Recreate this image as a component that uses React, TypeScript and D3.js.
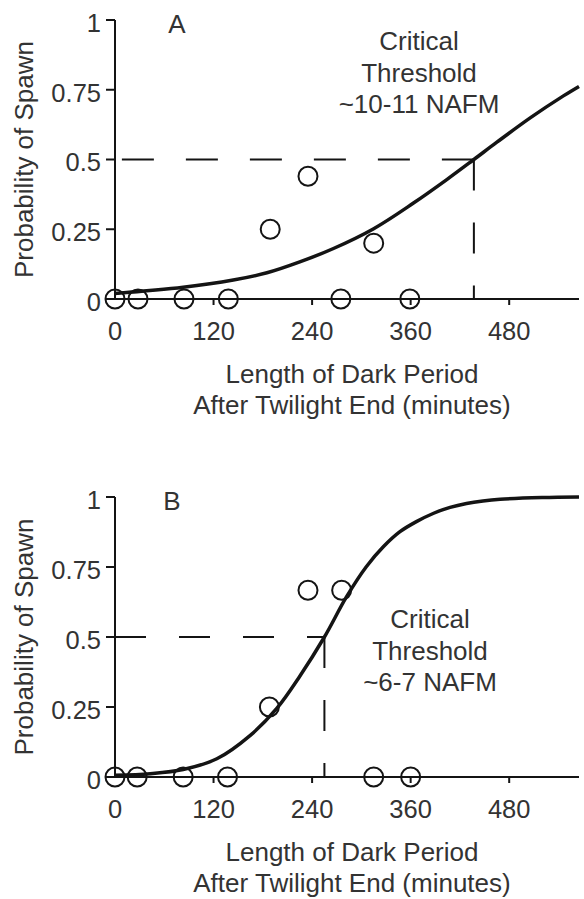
import React from "react";
import * as d3 from "d3";

// ---- Data ----
const xTicks = [0, 120, 240, 360, 480];
const yTicks = [0, 0.25, 0.5, 0.75, 1];
const yTickLabels = ["0", "0.25", "0.5", "0.75", "1"];

// Panel A observations (minutes, probability)
const obsAX = [0, 28, 84, 138, 275, 359, 189, 235, 315];
const obsAY = [0, 0, 0, 0, 0, 0, 0.25, 0.44, 0.2];
// Panel A fitted curve
const fitAX = [0, 83, 144, 185, 225, 266, 315, 363, 404, 437, 465, 506, 546, 565];
const fitAY = [0.02, 0.042, 0.068, 0.094, 0.133, 0.181, 0.252, 0.343, 0.428, 0.5, 0.562, 0.65, 0.728, 0.762];
const thresholdA = 437;

// Panel B observations
const obsBX = [0, 27, 83, 137, 315, 360, 188, 235, 276];
const obsBY = [0, 0, 0, 0, 0, 0, 0.25, 0.667, 0.667];
// Panel B fitted curve
const fitBX = [0, 43, 83, 124, 164, 197, 225, 255, 282, 306, 327, 347, 367, 388, 408, 428, 448, 469, 520, 565];
const fitBY = [0.006, 0.012, 0.027, 0.065, 0.147, 0.245, 0.36, 0.5, 0.644, 0.751, 0.823, 0.876, 0.912, 0.942, 0.963, 0.977, 0.986, 0.992, 0.998, 1.0];
const thresholdB = 255;

const panelLetters = ["A", "B"];
const noteLines = [
  ["Critical", "Threshold", "~10-11 NAFM"],
  ["Critical", "Threshold", "~6-7 NAFM"],
];
const xTitle = ["Length of Dark Period", "After Twilight End (minutes)"];
const yTitle = "Probability of Spawn";

const FONT = "'Liberation Sans', Arial, Helvetica, sans-serif";
const TEXT = "#333";
const INK = "#141414";

interface PanelProps {
  top: number;
  bottom: number;
  obsX: number[];
  obsY: number[];
  fitX: number[];
  fitY: number[];
  thr: number;
  letter: string;
  letterX: number;
  note: string[];
  noteX: number;
  noteY: number;
  hDashFromRight: boolean;
}

const x = d3.scaleLinear().domain([0, 565]).range([115, 579]);

function Panel(p: PanelProps) {
  const y = d3.scaleLinear().domain([0, 1]).range([p.bottom, p.top]);
  const line = d3
    .line<[number, number]>()
    .x((d) => x(d[0]))
    .y((d) => y(d[1]))
    .curve(d3.curveCatmullRom.alpha(0.5));
  const fitPts: [number, number][] = p.fitX.map((v, i) => [v, p.fitY[i]]);
  const x0 = x(0);
  const xEnd = x.range()[1];
  const tx = x(p.thr);
  const y5 = y(0.5);
  return (
    <g>
      {p.hDashFromRight ? (
        <line x1={tx} y1={y5} x2={x0} y2={y5} stroke={INK} strokeWidth={2} strokeDasharray="32,32" />
      ) : (
        <line x1={x0} y1={y5} x2={tx} y2={y5} stroke={INK} strokeWidth={2} strokeDasharray="31,33" />
      )}
      <line x1={tx} y1={y5} x2={tx} y2={y(0)} stroke={INK} strokeWidth={2} strokeDasharray="31,32" />

      <line x1={x0} y1={y(1)} x2={x0} y2={y(0)} stroke={INK} strokeWidth={2} />
      <line x1={x0} y1={y(0)} x2={xEnd} y2={y(0)} stroke={INK} strokeWidth={2} />
      {yTicks.map((t, i) => (
        <g key={"yt" + i}>
          <line x1={x0 - 9} x2={x0} y1={y(t)} y2={y(t)} stroke={INK} strokeWidth={2} />
          <text x={101} y={y(t) + 3} dy="0.35em" textAnchor="end" fontSize={25.5} fill={TEXT} fontFamily={FONT}>
            {yTickLabels[i]}
          </text>
        </g>
      ))}
      {xTicks.map((t, i) => (
        <g key={"xt" + i}>
          {t > 0 && <line x1={x(t)} x2={x(t)} y1={y(0)} y2={y(0) + 6} stroke={INK} strokeWidth={2} />}
          <text x={x(t)} y={y(0) + 41} textAnchor="middle" fontSize={25.5} fill={TEXT} fontFamily={FONT}>
            {t}
          </text>
        </g>
      ))}

      <path d={line(fitPts) || ""} fill="none" stroke={INK} strokeWidth={3.5} />

      {p.obsX.map((v, i) => (
        <circle key={"o" + i} cx={x(v)} cy={y(p.obsY[i])} r={9.5} fill="none" stroke={INK} strokeWidth={2} />
      ))}

      <text x={p.letterX} y={p.top + 13} textAnchor="middle" fontSize={26} fill={TEXT} fontFamily={FONT}>
        {p.letter}
      </text>
      {p.note.map((s, i) => (
        <text key={"n" + i} x={p.noteX} y={p.noteY + i * 31.5} textAnchor="middle" fontSize={26} fill={TEXT} fontFamily={FONT}>
          {s}
        </text>
      ))}
      {xTitle.map((s, i) => (
        <text key={"xt" + i} x={352} y={y(0) + 84 + i * 31} textAnchor="middle" fontSize={26} fill={TEXT} fontFamily={FONT}>
          {s}
        </text>
      ))}
      <text
        transform={`translate(33,${(p.top + p.bottom) / 2}) rotate(-90)`}
        textAnchor="middle"
        fontSize={26}
        fill={TEXT}
        fontFamily={FONT}
      >
        {yTitle}
      </text>
    </g>
  );
}

export default function App() {
  return (
    <svg
      width={584}
      height={899}
      viewBox="0 0 584 899"
      style={{ position: "absolute", left: 0, top: 0, background: "#fff" }}
    >
      <rect width={584} height={899} fill="#fff" />
      <Panel
        top={20}
        bottom={299}
        obsX={obsAX}
        obsY={obsAY}
        fitX={fitAX}
        fitY={fitAY}
        thr={thresholdA}
        letter={panelLetters[0]}
        letterX={177}
        note={noteLines[0]}
        noteX={419}
        noteY={50}
        hDashFromRight={true}
      />
      <Panel
        top={497}
        bottom={777}
        obsX={obsBX}
        obsY={obsBY}
        fitX={fitBX}
        fitY={fitBY}
        thr={thresholdB}
        letter={panelLetters[1]}
        letterX={172}
        note={noteLines[1]}
        noteX={430}
        noteY={628}
        hDashFromRight={false}
      />
    </svg>
  );
}
